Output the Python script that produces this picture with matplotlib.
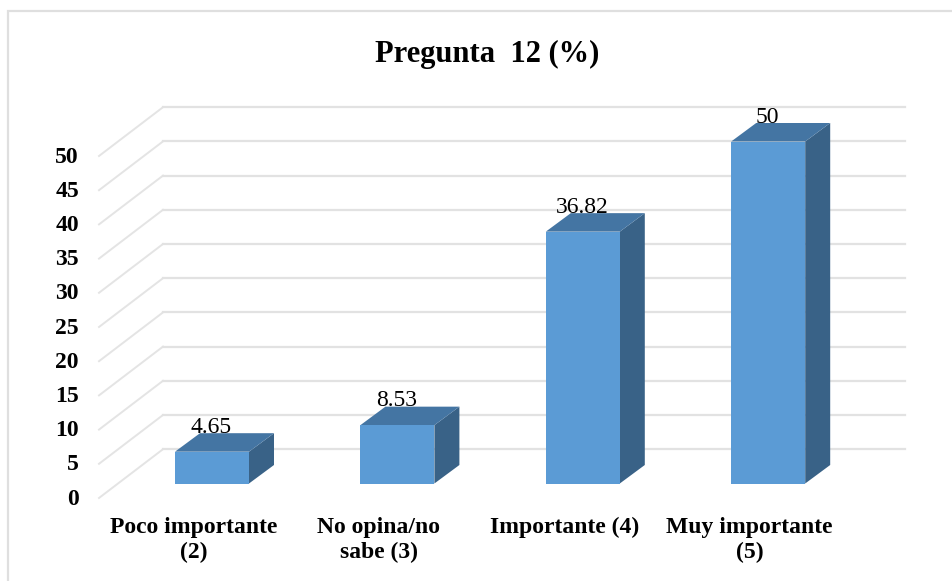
"""Pregunta 12 (%) - fake 3D column chart drawn on a flat axes."""

import numpy as np
import matplotlib
matplotlib.use("Agg")
import matplotlib.pyplot as plt
from matplotlib.patches import Polygon, Rectangle

categories = ["Poco importante\n(2)", "No opina/no\nsabe (3)", "Importante (4)", "Muy importante\n(5)"]
values = [4.65, 8.53, 36.82, 50]
value_labels = ["4.65", "8.53", "36.82", "50"]
y_ticks = [0, 5, 10, 15, 20, 25, 30, 35, 40, 45, 50]

FIG_W, FIG_H = 953, 581
X0_PX, STEP_PX = 212.0, 185.4   # first bar centre, bar spacing
Y0_PX, UNIT_PX = 483.5, 6.84    # zero level of the bars, pixels per value unit


def px_x(p):
    return (p - X0_PX) / STEP_PX


def px_y(p):
    return (Y0_PX - p) / UNIT_PX


plt.rcParams["font.family"] = ["Liberation Serif", "DejaVu Serif"]
plt.rcParams["font.weight"] = "bold"

fig = plt.figure(figsize=(FIG_W / 100, FIG_H / 100), dpi=100)
ax = fig.add_axes([0, 0, 1, 1])
ax.set_xlim(px_x(0), px_x(FIG_W))
ax.set_ylim(px_y(FIG_H), px_y(0))
ax.axis("off")

# chart frame, only top and left survive in the screenshot
ax.plot([px_x(7.5), px_x(7.5), px_x(FIG_W)], [px_y(FIG_H), px_y(11), px_y(11)],
        color="#dfdfdf", lw=1.6, solid_joinstyle="miter", zorder=1)

# gridlines: floor diagonal then the back wall run
grid_left, grid_back, grid_right = px_x(99), px_x(163), px_x(905)
front_drop = 14.5 / UNIT_PX
back_rise = 34.3 / UNIT_PX
for v in y_ticks:
    ax.plot([grid_left, grid_back], [v - front_drop, v + back_rise],
            color="#e4e4e4", lw=1.4, zorder=1)
    ax.plot([grid_back, grid_right], [v + back_rise, v + back_rise],
            color="#e2e2e2", lw=1.6, zorder=1)
    ax.text(px_x(79), v - front_drop - 0.15, str(v), ha="right", va="center", fontsize=17, color="black")

# bars
half_w = 37.0 / STEP_PX
depth_x, depth_y = 25.0 / STEP_PX, 18.5 / UNIT_PX
for i, (val, lab, cat) in enumerate(zip(values, value_labels, categories)):
    l, r = i - half_w, i + half_w
    ax.add_patch(Polygon([(r, 0), (r + depth_x, depth_y), (r + depth_x, val + depth_y), (r, val)],
                         fc="#396287", ec="none", zorder=3))
    ax.add_patch(Polygon([(l, val), (r, val), (r + depth_x, val + depth_y), (l + depth_x, val + depth_y)],
                         fc="#4475a3", ec="none", zorder=3))
    ax.add_patch(Rectangle((l, 0), r - l, val, fc="#5b9bd5", ec="none", zorder=4))
    ax.text(i - 0.005, val + depth_y + 0.85, lab, ha="center", va="center", fontsize=17,
            fontweight="normal", color="black", zorder=5)
    ax.text(i - 0.1, px_y(517), cat, ha="center", va="top", fontsize=17, linespacing=1.22, color="black")

ax.text(px_x(487), px_y(54.5), "Pregunta  12 (%)", ha="center", va="center", fontsize=22, color="black")

fig.savefig("out.png", dpi=100)
